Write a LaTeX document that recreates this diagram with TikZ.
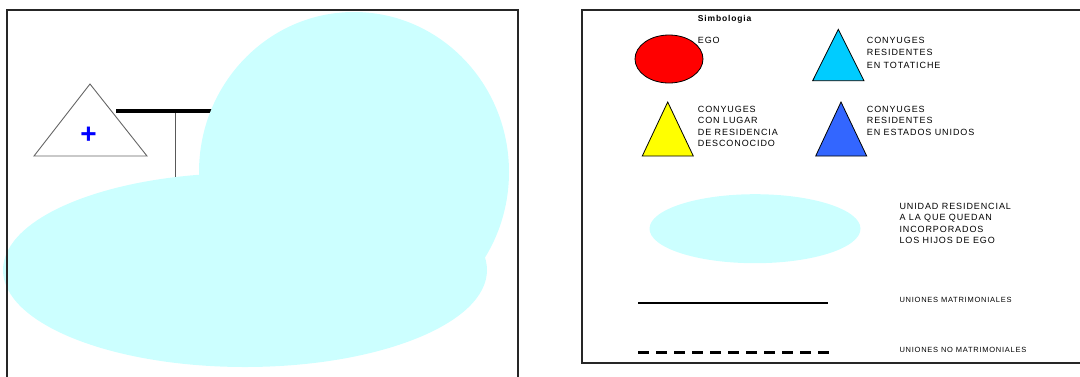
\documentclass[tikz,border=0pt]{standalone}
\usepackage{fontspec}
\setmainfont{Liberation Sans}
\newfontfamily\leyendafont[LetterSpace=10]{Liberation Sans}
\usetikzlibrary{shapes.geometric}
\definecolor{unidadcian}{HTML}{CCFFFF}
\definecolor{egorojo}{HTML}{FF0000}
\definecolor{totaticheazul}{HTML}{00CCFF}
\definecolor{eeuuazul}{HTML}{3366FF}
\definecolor{desconamarillo}{HTML}{FFFF00}
\definecolor{cruzazul}{HTML}{0000FF}
\tikzset{
  % marcos
  marco/.style={draw=black!85,line width=2pt},
  % parentesco
  varon/.style={draw=black!60,fill=white,line width=0.9pt,line join=miter},
  cruz/.style={text=cruzazul,font=\fontsize{28}{28}\selectfont\bfseries,inner sep=0pt},
  matri/.style={draw=black,line width=4pt},
  desc/.style={draw=black!65,line width=1pt},
  unidad/.style={fill=unidadcian},
  % simbologia
  simb/.style={draw=black,line width=0.8pt},
  egosimb/.style={ellipse,simb,fill=egorojo,minimum width=68pt,minimum height=48pt,inner sep=0pt},
  unidadsimb/.style={ellipse,fill=unidadcian,minimum width=211pt,minimum height=69pt,inner sep=0pt},
  ley/.style={anchor=north west,inner sep=0pt,align=left,text=black,
              font=\leyendafont\fontsize{9}{11.5}\selectfont},
  leychica/.style={ley,font=\leyendafont\fontsize{7.5}{9}\selectfont},
  linmatri/.style={draw=black,line width=2pt},
  linnomatri/.style={draw=black,line width=3pt,dash pattern=on 10.5pt off 7.5pt},
}
\begin{document}
\begin{tikzpicture}[x=1pt,y=-1pt]
\useasboundingbox (0,0) rectangle (1080,376);
% --- diagrama ---
\coordinate (uA) at (116,111);
\coordinate (uB) at (214,111);
\coordinate (hA) at (175,113);
\coordinate (hB) at (175,182);
\draw[matri] (uA) -- (uB);
\draw[desc] (hA) -- (hB);
\draw[varon] (90,84) -- (147,156) -- (34,156) -- cycle;
\node[cruz] (difunto) at (88.5,135.5) {+};
\fill[unidad] (354,172) ellipse [x radius=155,y radius=160];
\fill[unidad] (245,270) ellipse [x radius=242,y radius=97];
\draw[marco] (7,9.5) rectangle (518,385);
% --- simbologia ---
\draw[marco] (582,9.5) rectangle (1090,363);
\node[ley,font=\leyendafont\fontsize{8.5}{10}\selectfont\bfseries] (titulo) at (697.7,15) {Simbologia};
\node[egosimb] (ego) at (669,59) {};
\node[ley] (egotxt) at (697.7,36.7) {EGO};
\draw[simb,fill=totaticheazul] (838.3,29.3) -- (864,80.7) -- (812.7,80.7) -- cycle;
\node[ley,font=\leyendafont\fontsize{9}{12.5}\selectfont] (totatiche) at (866.7,36.7)
  {CONYUGES\\RESIDENTES\\EN TOTATICHE};
\draw[simb,fill=desconamarillo] (667.7,102) -- (693.3,156) -- (642.3,156) -- cycle;
\node[ley] (descon) at (697.7,106)
  {CONYUGES\\CON LUGAR\\DE RESIDENCIA\\DESCONOCIDO};
\draw[simb,fill=eeuuazul] (841,102) -- (866.7,156) -- (815.7,156) -- cycle;
\node[ley] (eeuu) at (866.7,106)
  {CONYUGES\\RESIDENTES\\EN ESTADOS UNIDOS};
\node[unidadsimb] (unidad) at (755,228.7) {};
\node[ley] (unidadtxt) at (899.3,202.7)
  {UNIDAD RESIDENCIAL\\A LA QUE QUEDAN\\INCORPORADOS\\LOS HIJOS DE EGO};
\coordinate (mA) at (638.3,302.7);
\coordinate (mB) at (828,302.7);
\draw[linmatri] (mA) -- (mB);
\node[leychica] (matritxt) at (899.3,296.7) {UNIONES MATRIMONIALES};
\coordinate (nA) at (638.3,352.7);
\coordinate (nB) at (829,352.7);
\draw[linnomatri] (nA) -- (nB);
\node[leychica] (nomatritxt) at (899.3,346.7) {UNIONES NO MATRIMONIALES};
\end{tikzpicture}
\end{document}
